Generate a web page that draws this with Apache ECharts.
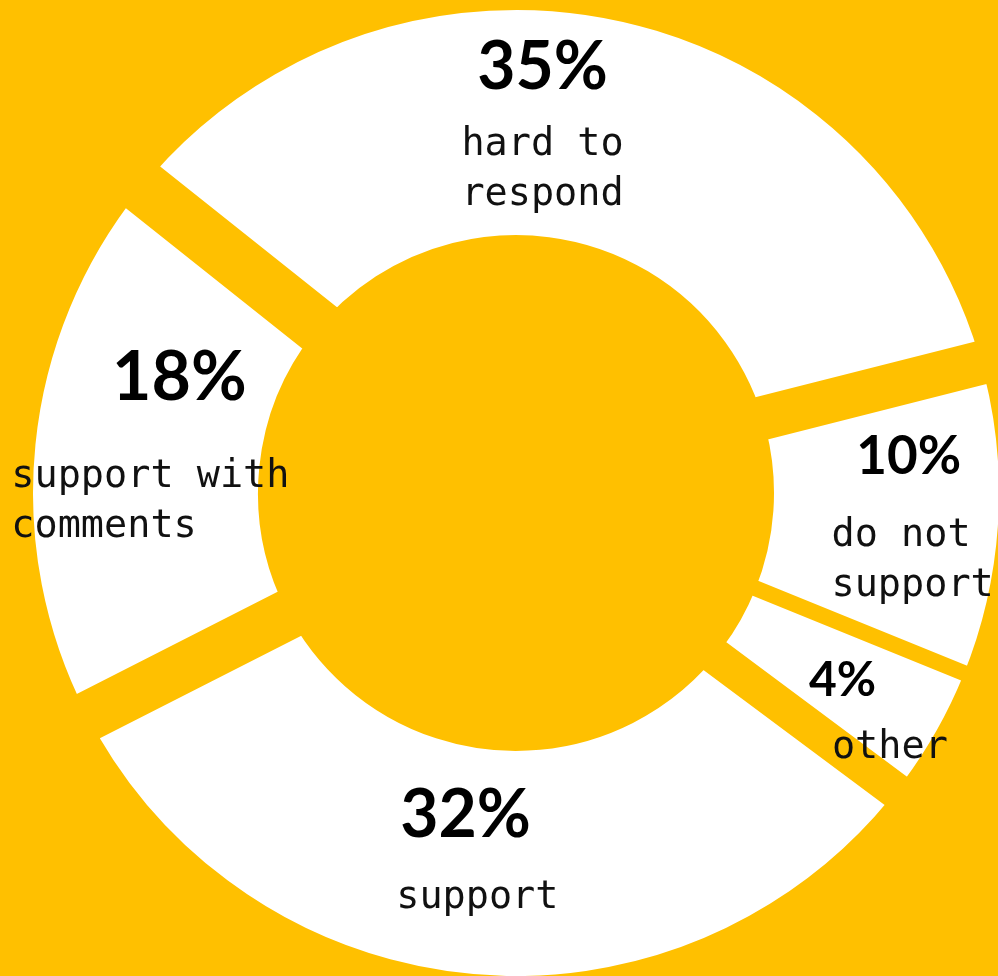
<!DOCTYPE html>
<html>
<head>
<meta charset="utf-8">
<script src="https://cdn.jsdelivr.net/npm/echarts@6/dist/echarts.min.js"></script>
<style>
html,body{margin:0;padding:0;background:#FFC000;overflow:hidden;}
#chart{width:998px;height:976px;}
</style>
</head>
<body>
<div id="chart"></div>
<script>
// ---- data ----
const categories = ['hard to respond', 'do not support', 'other', 'support', 'support with comments'];
const values = [35, 10, 4, 32, 18];
const labelLines = [['hard to', 'respond'], ['do not', 'support'], ['other'], ['support'], ['support with', 'comments']];

// ---- styling (not data) ----
const YELLOW = '#FFC000';
// yellow separator stroke per slice (gives the uneven gaps of the original)
const borders = [68, 20, 12, 60, 40];
const drawOrder = [0, 3, 4, 1, 2];
const labelLayouts = [
  {pSize: 66, pLine: 104, pAlign: 'center', pPad: 0, tAlign: 'center', tPad: 0, offset: [-52, -10]},
  {pSize: 53, pLine: 108, pAlign: 'center', pPad: [0, 8, 0, 0], tAlign: 'left', tPad: 0, offset: [24, -12]},
  {pSize: 48, pLine: 86, pAlign: 'left', pPad: 0, tAlign: 'left', tPad: [0, 0, 0, 23], offset: [37, 29]},
  {pSize: 66, pLine: 114, pAlign: 'left', pPad: [0, 0, 0, 4], tAlign: 'left', tPad: 0, offset: [-7, -24]},
  {pSize: 68, pLine: 148, pAlign: 'center', pPad: [0, 0, 0, 58], tAlign: 'left', tPad: 0, offset: [6, -27]}
];
const CENTER = [516, 493];
const INNER = 258, OUTER = 483;

function build() {
  const chart = echarts.init(document.getElementById('chart'), null, {renderer: 'canvas'});
  const series = drawOrder.map(function (k) {
    return {
      type: 'pie',
      silent: true,
      animation: false,
      center: CENTER,
      radius: [INNER - borders[k] / 2, OUTER + borders[k] / 2],
      startAngle: 141.5,
      clockwise: true,
      avoidLabelOverlap: false,
      labelLine: {show: false},
      emphasis: {disabled: true},
      data: values.map(function (v, i) {
        if (i !== k) {
          return {value: v, name: categories[i], itemStyle: {color: 'transparent', borderWidth: 0}, label: {show: false}};
        }
        const L = labelLayouts[i];
        return {
          value: v,
          name: categories[i],
          itemStyle: {color: '#ffffff', borderColor: YELLOW, borderWidth: borders[i], borderJoin: 'miter'},
          label: {
            show: true,
            position: 'inside',
            offset: L.offset,
            formatter: '{p|' + v + '%}\n' + labelLines[i].map(function (t) { return '{t|' + t + '}'; }).join('\n'),
            rich: {
              p: {fontFamily: 'Lato', fontWeight: 'bold', fontSize: L.pSize, lineHeight: L.pLine, color: '#000', align: L.pAlign, padding: L.pPad},
              t: {fontFamily: '"DejaVu Sans Mono", monospace', fontSize: 38.5, lineHeight: 50, color: '#111', align: L.tAlign, padding: L.tPad}
            }
          }
        };
      })
    };
  });
  chart.setOption({
    backgroundColor: YELLOW,
    animation: false,
    series: series
  });
}

if (document.fonts && document.fonts.load) {
  Promise.all([
    document.fonts.load('bold 66px Lato'),
    document.fonts.load('38px "DejaVu Sans Mono"')
  ]).then(build, build);
} else {
  build();
}
</script>
</body>
</html>
